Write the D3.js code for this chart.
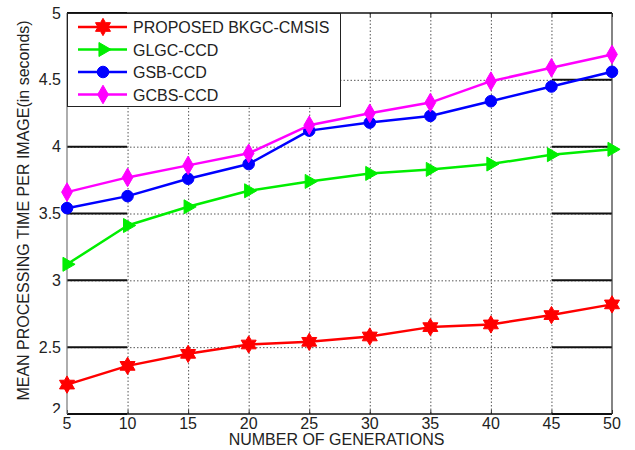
<!DOCTYPE html>
<html>
<head>
<meta charset="utf-8">
<script src="https://cdn.jsdelivr.net/npm/d3@7"></script>
<style>
  html, body { margin: 0; padding: 0; background: #fff; }
  svg { display: block; font-family: "Liberation Sans", Arial, sans-serif; }
</style>
</head>
<body>
<svg id="chart" width="635" height="450"></svg>
<script>
// Generations on the x axis
const generations = [5, 10, 15, 20, 25, 30, 35, 40, 45, 50];

// Mean processing time per image (seconds) for each method
const bkgcCmsis = [2.22, 2.36, 2.45, 2.52, 2.54, 2.58, 2.65, 2.67, 2.74, 2.82];
const glgcCcd   = [3.12, 3.41, 3.55, 3.67, 3.74, 3.80, 3.83, 3.87, 3.94, 3.98];
const gsbCcd    = [3.54, 3.63, 3.76, 3.87, 4.12, 4.18, 4.23, 4.34, 4.45, 4.56];
const gcbsCcd   = [3.66, 3.77, 3.86, 3.95, 4.16, 4.25, 4.33, 4.49, 4.59, 4.69];

const seriesNames = ["PROPOSED BKGC-CMSIS", "GLGC-CCD", "GSB-CCD", "GCBS-CCD"];
const seriesValues = [bkgcCmsis, glgcCcd, gsbCcd, gcbsCcd];

const xTicks = [5, 10, 15, 20, 25, 30, 35, 40, 45, 50];
const yTicks = [2, 2.5, 3, 3.5, 4, 4.5, 5];
const yTickLabels = ["2", "2.5", "3", "3.5", "4", "4.5", "5"];

// Styling
const colors = ["#ff0000", "#00ee00", "#0000ff", "#ff00ff"];
const markerKinds = ["hexagram", "triangleRight", "circle", "diamond"];

const svg = d3.select("#chart");
const plotLeft = 67, plotRight = 612, plotTop = 13, plotBottom = 414;

const x = d3.scaleLinear().domain([5, 50]).range([plotLeft, plotRight]);
const y = d3.scaleLinear().domain([2, 5]).range([plotBottom, plotTop]);

// Six-pointed star symbol type for d3.symbol
const symbolHexagram = {
  draw(context, size) {
    const R = Math.sqrt(size / 2.2);
    const r = R * 0.58;
    for (let i = 0; i < 12; i++) {
      const a = -Math.PI / 2 + i * Math.PI / 6;
      const rad = i % 2 === 0 ? R : r;
      const px = rad * Math.cos(a), py = rad * Math.sin(a);
      if (i === 0) context.moveTo(px, py); else context.lineTo(px, py);
    }
    context.closePath();
  }
};

function markerPath(kind) {
  if (kind === "hexagram") return d3.symbol(symbolHexagram, 165)();
  if (kind === "triangleRight") return d3.symbol(d3.symbolTriangle, 85)();
  if (kind === "circle") return d3.symbol(d3.symbolCircle, 105)();
  return d3.symbol(d3.symbolDiamond, 100)();
}
function markerRotate(kind) { return kind === "triangleRight" ? " rotate(90)" : ""; }

// Dotted grid
const grid = svg.append("g").attr("stroke", "#555").attr("stroke-width", 1)
  .attr("stroke-dasharray", "1.5,2");
grid.selectAll("line.v").data(xTicks.slice(1, -1)).join("line").attr("class", "v")
  .attr("x1", d => x(d) + 0.5).attr("x2", d => x(d) + 0.5)
  .attr("y1", plotTop).attr("y2", plotBottom);
grid.selectAll("line.h").data(yTicks.slice(1, -1)).join("line").attr("class", "h")
  .attr("x1", plotLeft).attr("x2", plotRight)
  .attr("y1", d => y(d) + 0.5).attr("y2", d => y(d) + 0.5);

// Long y ticks on both sides
const tickLen = 60;
const yt = svg.append("g").attr("stroke", "#111").attr("stroke-width", 2);
yt.selectAll("line.l").data(yTicks).join("line").attr("class", "l")
  .attr("x1", plotLeft).attr("x2", plotLeft + tickLen)
  .attr("y1", d => y(d)).attr("y2", d => y(d));
yt.selectAll("line.r").data(yTicks).join("line").attr("class", "r")
  .attr("x1", plotRight - tickLen).attr("x2", plotRight)
  .attr("y1", d => y(d)).attr("y2", d => y(d));

// Short x ticks top and bottom
const xt = svg.append("g").attr("stroke", "#333").attr("stroke-width", 1);
xt.selectAll("line.b").data(xTicks).join("line").attr("class", "b")
  .attr("x1", d => x(d) + 0.5).attr("x2", d => x(d) + 0.5)
  .attr("y1", plotBottom).attr("y2", plotBottom - 4);
xt.selectAll("line.t").data(xTicks).join("line").attr("class", "t")
  .attr("x1", d => x(d) + 0.5).attr("x2", d => x(d) + 0.5)
  .attr("y1", plotTop).attr("y2", plotTop + 4);

// Axes frame
svg.append("line").attr("x1", plotLeft).attr("x2", plotRight).attr("y1", plotTop).attr("y2", plotTop)
  .attr("stroke", "#111").attr("stroke-width", 1.5);
svg.append("line").attr("x1", plotLeft).attr("x2", plotRight).attr("y1", plotBottom).attr("y2", plotBottom)
  .attr("stroke", "#111").attr("stroke-width", 1.5);
svg.append("line").attr("x1", plotLeft).attr("x2", plotLeft).attr("y1", plotTop).attr("y2", plotBottom)
  .attr("stroke", "#777").attr("stroke-width", 1.2);
svg.append("line").attr("x1", plotRight).attr("x2", plotRight).attr("y1", plotTop).attr("y2", plotBottom)
  .attr("stroke", "#333").attr("stroke-width", 1.2);

// Tick labels
const fontSize = 16;
svg.append("defs").append("clipPath").attr("id", "ylabClip")
  .append("rect").attr("x", 0).attr("y", 0).attr("width", plotLeft).attr("height", plotBottom - 1);
svg.append("g").attr("clip-path", "url(#ylabClip)")
  .selectAll("text").data(yTicks).join("text")
  .attr("x", 61).attr("y", (d, i) => y(d) + (i === 0 ? 1 : 5.5))
  .attr("text-anchor", "end").attr("font-size", fontSize).attr("fill", "#222")
  .text((d, i) => yTickLabels[i]);
svg.append("g").selectAll("text").data(xTicks).join("text")
  .attr("x", d => x(d)).attr("y", 429)
  .attr("text-anchor", "middle").attr("font-size", fontSize).attr("fill", "#222")
  .text(d => d);

// Axis titles
svg.append("text").attr("x", (plotLeft + plotRight) / 2 - 3).attr("y", 445)
  .attr("text-anchor", "middle").attr("font-size", fontSize).attr("fill", "#222")
  .text("NUMBER OF GENERATIONS");
svg.append("text")
  .attr("transform", `translate(29,${(plotTop + plotBottom) / 2 - 3}) rotate(-90)`)
  .attr("text-anchor", "middle").attr("font-size", fontSize).attr("fill", "#222")
  .text("MEAN PROCESSING TIME PER IMAGE(in seconds)");

// Series lines and markers
const line = d3.line().x((d, i) => x(generations[i])).y(d => y(d));
seriesValues.forEach((vals, s) => {
  const g = svg.append("g");
  g.append("path").datum(vals).attr("d", line)
    .attr("fill", "none").attr("stroke", colors[s]).attr("stroke-width", 2.5)
    .attr("stroke-linejoin", "round");
  g.selectAll("path.m").data(vals).join("path").attr("class", "m")
    .attr("d", markerPath(markerKinds[s]))
    .attr("transform", (d, i) => `translate(${x(generations[i])},${y(d)})${markerRotate(markerKinds[s])}`)
    .attr("fill", colors[s]).attr("stroke", colors[s]).attr("stroke-width", 1);
});

// Legend
const legend = svg.append("g");
legend.append("rect").attr("x", plotLeft + 0.5).attr("y", plotTop + 0.5)
  .attr("width", 340 - plotLeft).attr("height", 106 - plotTop)
  .attr("fill", "#fff").attr("stroke", "#222").attr("stroke-width", 1);
seriesNames.forEach((name, s) => {
  const cy = 27 + s * 22.5;
  legend.append("line").attr("x1", 78).attr("x2", 127).attr("y1", cy).attr("y2", cy)
    .attr("stroke", colors[s]).attr("stroke-width", 2.5);
  legend.append("path").attr("d", markerPath(markerKinds[s]))
    .attr("transform", `translate(103,${cy})${markerRotate(markerKinds[s])}`)
    .attr("fill", colors[s]).attr("stroke", colors[s]).attr("stroke-width", 1);
  legend.append("text").attr("x", 133).attr("y", cy + 6)
    .attr("font-size", fontSize).attr("fill", "#222").text(name);
});
</script>
</body>
</html>
